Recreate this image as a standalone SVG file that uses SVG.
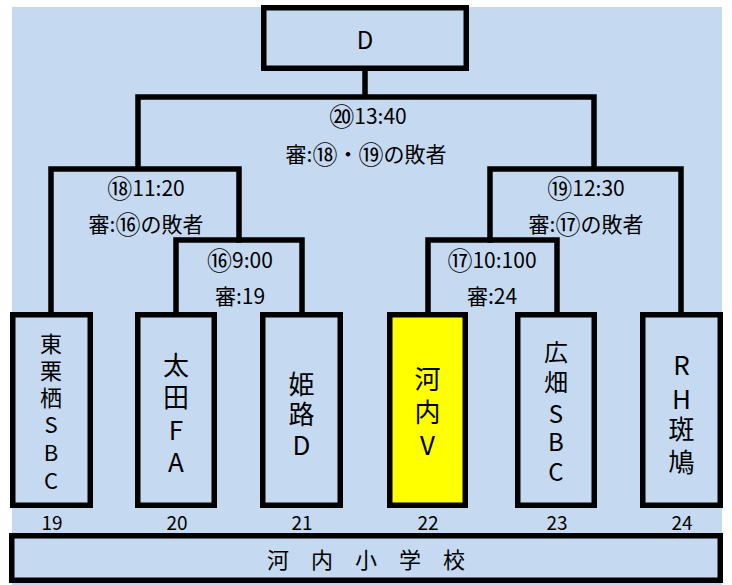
<svg xmlns="http://www.w3.org/2000/svg" width="732" height="585" viewBox="0 0 732 585">
<style>
  .bg{fill:#C5D9F1}
  .box{fill:#C5D9F1;stroke:#000;stroke-width:5.5}
  .hl{fill:#FFFF00}
  .ln{fill:none;stroke:#000;stroke-width:5.5;stroke-linecap:square}
  text{font-family:"Noto Sans CJK JP","Noto Sans",sans-serif;fill:#000;text-anchor:middle;dominant-baseline:central}
  .lbl{font-size:21px}
  .c{font-size:25px}
  .num{font-size:19px}
  .t22{font-size:22px}
  .t26{font-size:26px}
  .t24{font-size:24px}
</style>
<rect class="bg" x="12" y="7" width="710" height="578"/>
<g id="connectors">
  <path class="ln" d="M365 71V97M138 168V97H594V168"/>
  <path class="ln" d="M51 312V169H239V240"/>
  <path class="ln" d="M176 312V240H302V312"/>
  <path class="ln" d="M681 312V169H490V240"/>
  <path class="ln" d="M428 312V240H557V312"/>
</g>
<g id="labels">
  <text class="lbl" x="368" y="115"><tspan class="c">⑳</tspan>13:40</text>
  <text class="lbl" x="366" y="153">審:<tspan class="c">⑱</tspan>・<tspan class="c">⑲</tspan>の敗者</text>
  <text class="lbl" x="146" y="187"><tspan class="c">⑱</tspan>11:20</text>
  <text class="lbl" x="146" y="223">審:<tspan class="c">⑯</tspan>の敗者</text>
  <text class="lbl" x="240" y="259"><tspan class="c">⑯</tspan>9:00</text>
  <text class="lbl" x="240" y="295">審:19</text>
  <text class="lbl" x="586" y="187"><tspan class="c">⑲</tspan>12:30</text>
  <text class="lbl" x="586" y="223">審:<tspan class="c">⑰</tspan>の敗者</text>
  <text class="lbl" x="492" y="259"><tspan class="c">⑰</tspan>10:100</text>
  <text class="lbl" x="492" y="295">審:24</text>
</g>
<g id="node-final">
  <rect class="box" x="263.75" y="7.75" width="202.5" height="60.5"/>
  <text class="t24" x="365" y="38">D</text>
</g>
<g id="node-19">
  <rect class="box" x="12.75" y="314.75" width="77.5" height="190.5"/>
  <text class="t22" x="51" y="342">東</text>
  <text class="t22" x="51" y="369">栗</text>
  <text class="t22" x="51" y="396">栖</text>
  <text class="t22" x="51" y="423">S</text>
  <text class="t22" x="51" y="451">B</text>
  <text class="t22" x="51" y="479">C</text>
  <text class="num" x="52" y="521">19</text>
</g>
<g id="node-20">
  <rect class="box" x="137.75" y="314.75" width="76.5" height="190.5"/>
  <text class="t26" x="176" y="363">太</text>
  <text class="t26" x="176" y="395">田</text>
  <text class="t26" x="176" y="428">F</text>
  <text class="t26" x="176" y="460">A</text>
  <text class="num" x="177" y="521">20</text>
</g>
<g id="node-21">
  <rect class="box" x="262.75" y="314.75" width="77.5" height="190.5"/>
  <text class="t26" x="301.5" y="382">姫</text>
  <text class="t26" x="301.5" y="412">路</text>
  <text class="t26" x="301.5" y="443">D</text>
  <text class="num" x="302" y="521">21</text>
</g>
<g id="node-22">
  <rect class="box hl" x="389.75" y="314.75" width="75.5" height="190.5"/>
  <text class="t26" x="427.5" y="377">河</text>
  <text class="t26" x="427.5" y="410">内</text>
  <text class="t26" x="427.5" y="443">V</text>
  <text class="num" x="428" y="521">22</text>
</g>
<g id="node-23">
  <rect class="box" x="517.75" y="314.75" width="76.5" height="190.5"/>
  <text class="t24" x="556" y="350">広</text>
  <text class="t24" x="556" y="380">畑</text>
  <text class="t24" x="556" y="412">S</text>
  <text class="t24" x="556" y="440">B</text>
  <text class="t24" x="556" y="470">C</text>
  <text class="num" x="557" y="521">23</text>
</g>
<g id="node-24">
  <rect class="box" x="642.75" y="314.75" width="77.5" height="190.5"/>
  <text class="t26" x="681.5" y="363">R</text>
  <text class="t26" x="681.5" y="397">H</text>
  <text class="t26" x="681.5" y="427">斑</text>
  <text class="t26" x="681.5" y="460">鳩</text>
  <text class="num" x="682" y="521">24</text>
</g>
<g id="node-venue">
  <rect class="box" x="11.75" y="535.75" width="708.5" height="44.5"/>
  <text class="t22" x="366" y="558">河　内　小　学　校</text>
</g>
</svg>
